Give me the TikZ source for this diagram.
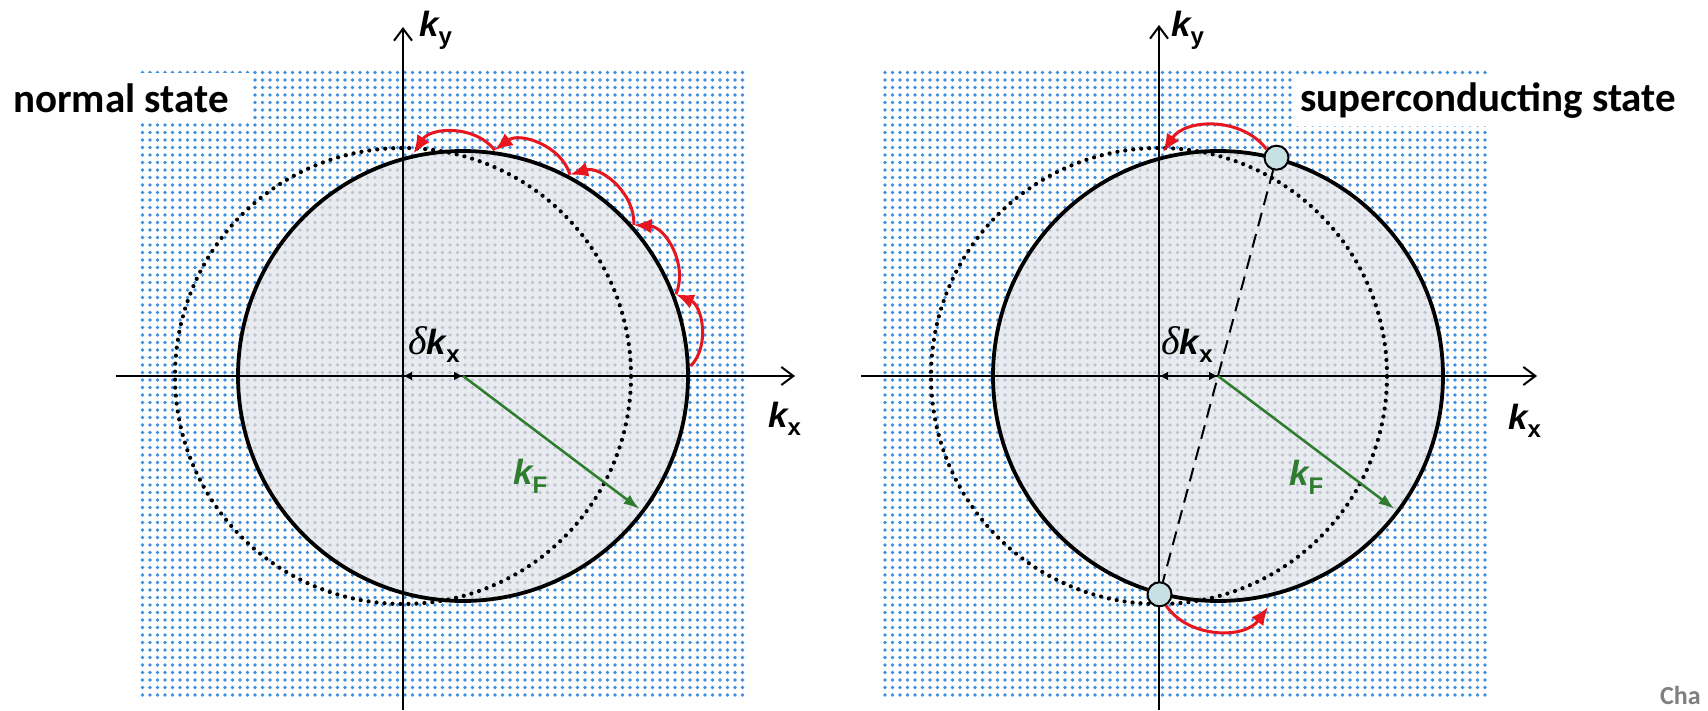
\documentclass[tikz,border=0pt]{standalone}
\usepackage{fontspec}
\setmainfont{Liberation Sans}
\newfontfamily\calfont{Carlito}
\newfontfamily\serfont{Liberation Serif}
\usetikzlibrary{arrows.meta,patterns.meta,calc}
\definecolor{dotblue}{RGB}{62,142,222}
\definecolor{ingray}{RGB}{232,235,240}
\definecolor{indots}{RGB}{192,196,206}
\definecolor{arrred}{RGB}{232,22,30}
\definecolor{kgreen}{RGB}{46,125,46}
\definecolor{ballfill}{RGB}{198,224,228}
\newcommand{\kbase}{{\fontsize{35}{35}\selectfont\bfseries\itshape k}}
\newcommand{\ksub}[1]{\raisebox{-8pt}{\fontsize{24}{24}\selectfont\bfseries\upshape #1}}
\newcommand{\kdelta}{{\serfont\itshape\fontsize{40}{40}\selectfont δ}}
\begin{document}
\begin{tikzpicture}[x=1pt,y=1pt,
  kaxis/.style={line width=2pt, -{Straight Barb[length=12pt,width=18pt,line width=2pt]}},
  fermiline/.style={line width=3.8pt, draw=black},
  oldfermi/.style={line width=4.2pt, dash pattern=on 0pt off 8pt, line cap=round},
  hoparrow/.style={line width=3pt, draw=arrred, -{Latex[length=18pt,width=15pt]}},
  kfarrow/.style={line width=2.5pt, draw=kgreen, -{Latex[length=16pt,width=11pt]}},
  dkarrow/.style={line width=2pt, {Latex[length=9pt,width=9pt]}-{Latex[length=9pt,width=9pt]}},
  pairline/.style={line width=2pt, dash pattern=on 14pt off 8pt},
  klabel/.style={anchor=base west, inner sep=0pt},
  titletext/.style={anchor=base west, inner sep=0pt, font=\calfont\bfseries\fontsize{41}{41}\selectfont},
  pairball/.style={circle, draw=black, line width=2pt, fill=ballfill, minimum size=24pt, inner sep=0pt},
  bluedots/.style={pattern={Dots[distance=7.5pt,radius=1.9pt]}, pattern color=dotblue},
  greydots/.style={pattern={Dots[distance=7.5pt,radius=1.9pt]}, pattern color=indots},
]
\useasboundingbox (0,0) rectangle (1708,710);
\fill[white] (0,0) rectangle (1708,710);

% ---------- left panel ----------
\coordinate (O1) at (403,334);
\coordinate (C1) at (463,334);
\path[bluedots] (138,13) rectangle (748,642);
\fill[ingray] (C1) circle[radius=225];
\path[greydots] (C1) circle[radius=225];
\fill[white] (0,587) rectangle (250,637);
\draw[oldfermi] (O1) circle[radius=228];
\draw[fermiline] (C1) circle[radius=225];

\coordinate (xl1) at (116,334);
\coordinate (xr1) at (795,334);
\coordinate (yb1) at (403,0);
\coordinate (yt1) at (403,683);
\draw[kaxis] (xl1) -- (xr1);
\draw[kaxis] (yb1) -- (yt1);

\foreach \i/\a in {0/2.5,1/21,2/41.5,3/62,4/82,5/102.5}
  \coordinate (h\i) at ($(C1)+(\a:228)$);
\draw[hoparrow] (h0) to[bend right=55] (h1);
\draw[hoparrow] (h1) to[bend right=55] (h2);
\draw[hoparrow] (h2) to[bend right=55] (h3);
\draw[hoparrow] (h3) to[bend right=55] (h4);
\draw[hoparrow] (h4) to[bend right=55] (h5);

\coordinate (kF1) at ($(C1)+(-37:221)$);
\draw[kfarrow] (C1) -- (kF1);
\draw[dkarrow] (O1) -- (C1);

\node[titletext] (tnormal) at (13,597) {normal state};
\node[klabel] (ky1) at (419,673) {\kbase\ksub{y}};
\node[klabel] (kx1) at (768,282) {\kbase\ksub{x}};
\node[klabel] (dk1) at (408,355) {\kdelta\kbase\ksub{x}};
\node[klabel, text=kgreen] (kf1) at (513,225) {\kbase\ksub{F}};

% ---------- right panel ----------
\coordinate (O2) at (1159,334);
\coordinate (C2) at (1218,334);
\path[bluedots] (882,13) rectangle (1489,642);
\fill[ingray] (C2) circle[radius=225];
\path[greydots] (C2) circle[radius=225];
\fill[white] (1293,584) rectangle (1708,634);
\draw[oldfermi] (O2) circle[radius=228];
\draw[fermiline] (C2) circle[radius=225];

\coordinate (xl2) at (861,334);
\coordinate (xr2) at (1537,334);
\coordinate (yb2) at (1159,0);
\coordinate (yt2) at (1159,685);
\draw[kaxis] (xl2) -- (xr2);
\draw[kaxis] (yb2) -- (yt2);

\coordinate (kF2) at ($(C2)+(-37:221)$);
\draw[kfarrow] (C2) -- (kF2);
\draw[dkarrow] (O2) -- (C2);

\node[pairball] (ballT) at ($(C2)+(75:226)$) {};
\node[pairball] (ballB) at ($(C2)+(255:226)$) {};
\draw[pairline] (ballT) -- (ballB);
\coordinate (hopT) at (1163,558);
\coordinate (hopB) at (1268,103);
\draw[hoparrow] (ballT.140) to[bend right=55] (hopT);
\draw[hoparrow] (ballB.-60) to[bend right=55] (hopB);

\node[titletext] (tsuper) at (1300,598) {superconducting state};
\node[klabel] (ky2) at (1171,673) {\kbase\ksub{y}};
\node[klabel] (kx2) at (1508,280) {\kbase\ksub{x}};
\node[klabel] (dk2) at (1161,355) {\kdelta\kbase\ksub{x}};
\node[klabel, text=kgreen] (kf2) at (1289,224) {\kbase\ksub{F}};

\node[klabel, font=\calfont\bfseries\fontsize{26}{26}\selectfont, text=gray] (cha) at (1660,6) {Cha};
\end{tikzpicture}
\end{document}
